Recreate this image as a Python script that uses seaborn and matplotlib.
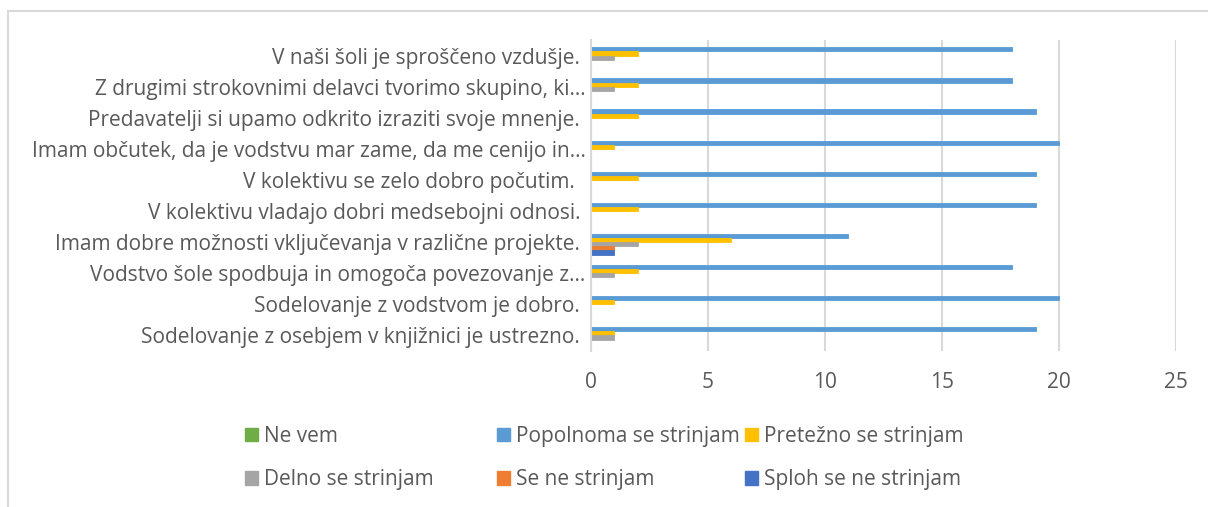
import pandas as pd
import matplotlib.pyplot as plt
import seaborn as sns
from matplotlib.patches import Patch, Rectangle

# Trditve (od zgoraj navzdol)
trditve = [
    'V naši šoli je sproščeno vzdušje. ',
    'Z drugimi strokovnimi delavci tvorimo skupino, ki...',
    'Predavatelji si upamo odkrito izraziti svoje mnenje. ',
    'Imam občutek, da je vodstvu mar zame, da me cenijo in...',
    'V kolektivu se zelo dobro počutim.  ',
    'V kolektivu vladajo dobri medsebojni odnosi. ',
    'Imam dobre možnosti vključevanja v različne projekte. ',
    'Vodstvo šole spodbuja in omogoča povezovanje z...',
    'Sodelovanje z vodstvom je dobro. ',
    'Sodelovanje z osebjem v knjižnici je ustrezno. ',
]

ne_vem = [0, 0, 0, 0, 0, 0, 0, 0, 0, 0]
popolnoma = [18, 18, 19, 20, 19, 19, 11, 18, 20, 19]
pretezno = [2, 2, 2, 1, 2, 2, 6, 2, 1, 1]
delno = [1, 1, 0, 0, 0, 0, 2, 1, 0, 1]
se_ne = [0, 0, 0, 0, 0, 0, 1, 0, 0, 0]
sploh_ne = [0, 0, 0, 0, 0, 0, 1, 0, 0, 0]

odgovori = ['Ne vem', 'Popolnoma se strinjam', 'Pretežno se strinjam',
            'Delno se strinjam', 'Se ne strinjam', 'Sploh se ne strinjam']
barve = ['#70AD47', '#5B9BD5', '#FFC000', '#A5A5A5', '#ED7D31', '#4472C4']
vrednosti = [ne_vem, popolnoma, pretezno, delno, se_ne, sploh_ne]

rows = []
for odg, vals in zip(odgovori, vrednosti):
    for t, v in zip(trditve, vals):
        rows.append({'Trditev': t, 'Odgovor': odg, 'Število': v})
df = pd.DataFrame(rows)

sns.set_style('white')
plt.rcParams['font.family'] = ['Open Sans', 'DejaVu Sans']
tc = '#595959'
fs = 15

fig = plt.figure(figsize=(12.08, 5.07), dpi=100)
ax = fig.add_axes([591 / 1208, 1 - 351 / 507, 585 / 1208, 311 / 507])

sns.barplot(data=df, x='Število', y='Trditev', hue='Odgovor',
            hue_order=odgovori, palette=barve, order=trditve,
            orient='h', width=0.8, saturation=1, ax=ax, legend=False)
for p in ax.patches:
    p.set_edgecolor(p.get_facecolor())
    p.set_linewidth(0.6)

ax.set_xlim(0, 25)
ax.set_ylim(9.5, -0.5)
ax.set_xticks([0, 5, 10, 15, 20, 25])
ax.xaxis.grid(True, color='#D9D9D9', linewidth=1.5)
ax.set_axisbelow(True)
for s in ['top', 'right', 'bottom']:
    ax.spines[s].set_visible(False)
ax.spines['left'].set_color('#D9D9D9')
ax.spines['left'].set_linewidth(1.5)
ax.set_xlabel('')
ax.set_ylabel('')
ax.tick_params(axis='x', length=0, pad=15, labelsize=fs, labelcolor=tc)
ax.tick_params(axis='y', length=0, pad=4, labelsize=fs, labelcolor=tc)

# legenda: trije enako široki stolpci
stolpci = [(245, [0, 3]), (497, [1, 4]), (745, [2, 5])]
for x0, idx in stolpci:
    leg = fig.legend([Patch(color=barve[i]) for i in idx], [odgovori[i] for i in idx],
                     loc='center left', bbox_to_anchor=(x0 / 1208, 1 - 458 / 507),
                     ncol=1, frameon=False, fontsize=fs, labelcolor=tc,
                     borderpad=0, borderaxespad=0,
                     handlelength=0.6, handleheight=0.6, handletextpad=0.3,
                     labelspacing=1.1)

# okvir grafikona
fig.patches.append(Rectangle((8 / 1208, -0.1), 1.2, 1 - 11 / 507 + 0.1,
                             transform=fig.transFigure, fill=False,
                             edgecolor='#D9D9D9', linewidth=1.5))

fig.savefig('out.png', dpi=100)
